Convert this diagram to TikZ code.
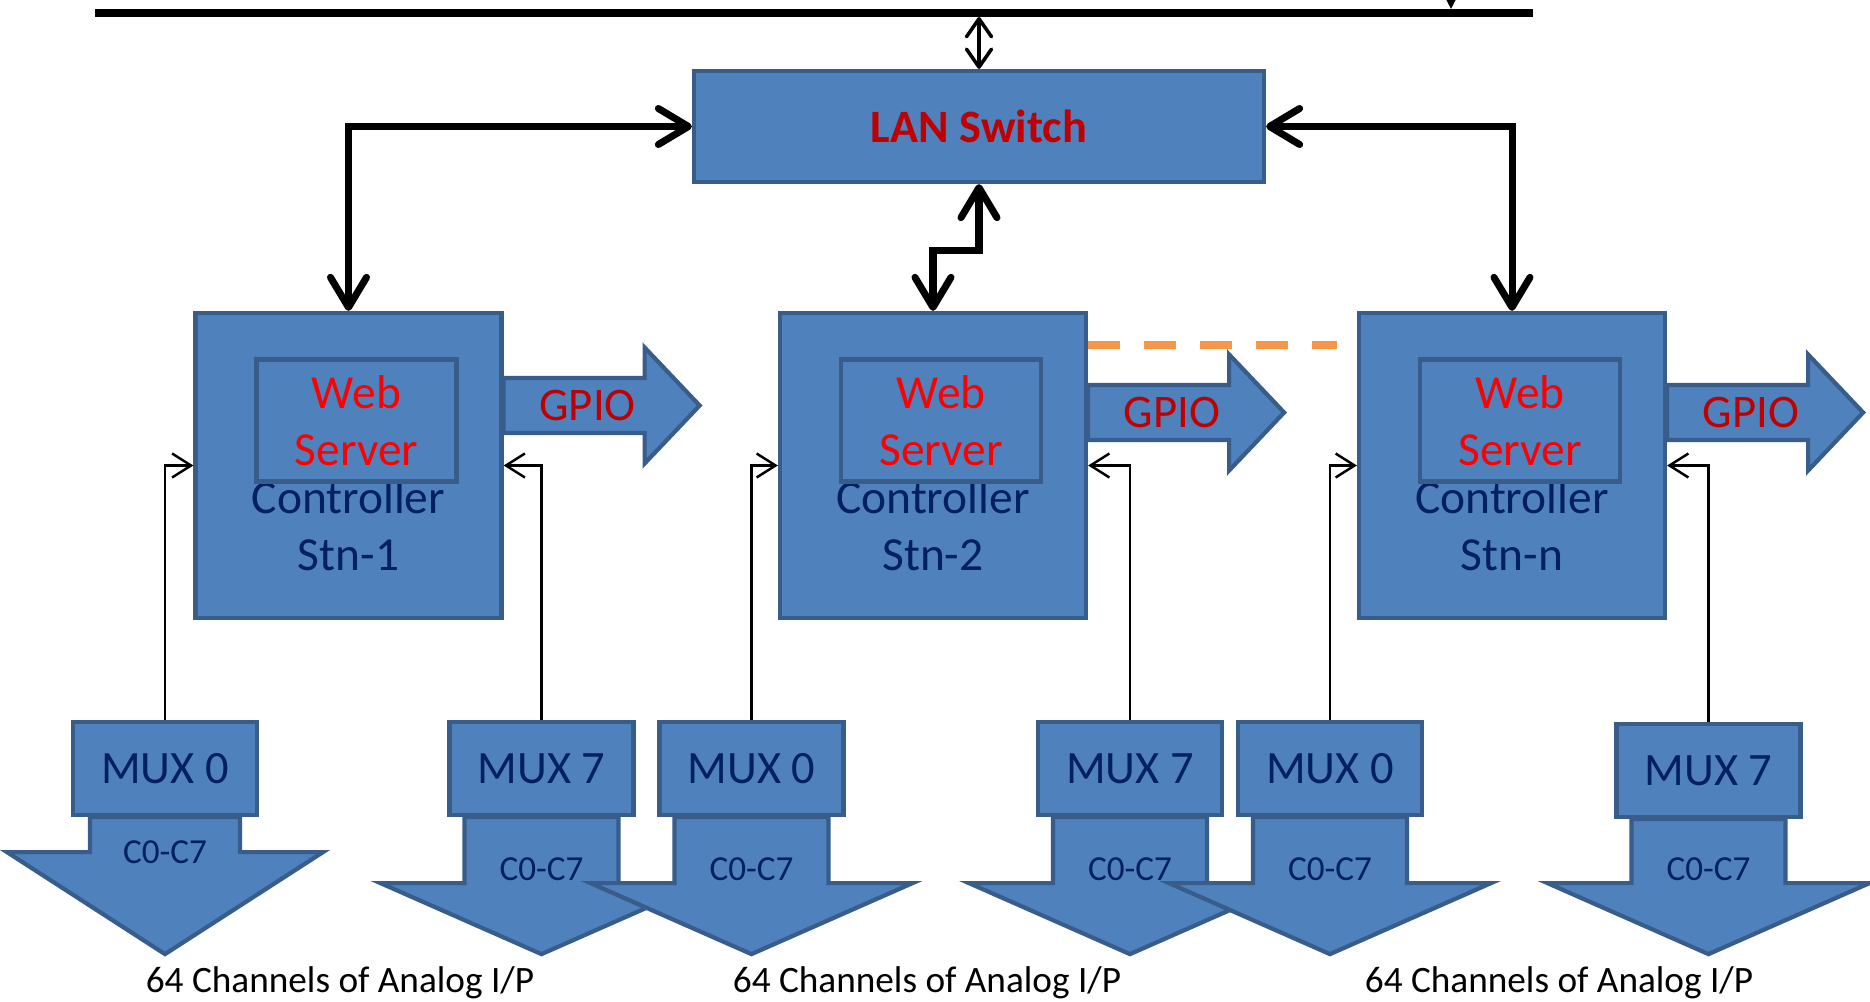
\documentclass[tikz,border=0pt]{standalone}
\usepackage{fontspec}
\setmainfont{Carlito}
\usetikzlibrary{arrows.meta, positioning, calc}

\definecolor{boxfill}{HTML}{4F81BD}
\definecolor{boxline}{HTML}{385D8A}
\definecolor{navy}{HTML}{002060}
\definecolor{darkred}{HTML}{C00000}
\definecolor{orangeline}{HTML}{F79646}

\begin{document}
\begin{tikzpicture}[
    box/.style={draw=boxline, fill=boxfill, line width=1.2pt, inner sep=0pt},
    station/.style={box, minimum width=3.06cm, minimum height=3.05cm},
    websrv/.style={box, minimum width=2.0cm, minimum height=1.22cm, align=center, text=red, font=\fontsize{13.5}{16.3}\selectfont},
    ctrltext/.style={align=center, text=navy, font=\fontsize{13.5}{16.3}\selectfont},
    mux/.style={box, minimum width=1.84cm, minimum height=0.93cm, text=navy, font=\fontsize{13.2}{15}\selectfont},
    blockarrow/.style={draw=boxline, fill=boxfill, line width=1.2pt},
    gpiotext/.style={text=darkred, font=\fontsize{13.3}{15}\selectfont},
    chtext/.style={text=navy, font=\fontsize{10}{12}\selectfont},
    inputtext/.style={font=\fontsize{10.6}{12.7}\selectfont},
    link/.style={<->, >={Straight Barb[length=3mm, width=3.6mm, round]}, line width=2pt},
    buslink/.style={<->, >={Straight Barb[length=1.8mm, width=2.5mm, round]}, line width=1pt},
    feed/.style={->, >={Straight Barb[length=1.9mm, width=2.4mm]}, line width=0.7pt},
    ringline/.style={orangeline, line width=2.3pt, dash pattern=on 9.1pt off 6.8pt}
]
    \useasboundingbox (0,0) rectangle (18.70,-10.02);

    % backbone
    \coordinate (busL) at (0.95,-0.13);
    \coordinate (busR) at (15.33,-0.13);
    \coordinate (busTap) at (9.79,-0.17);
    \coordinate (busIn) at (14.51,0.3);
    \coordinate (busDrop) at (14.51,-0.09);
    \draw[line width=2.3pt] (busL) -- (busR);
    \draw[-{Triangle[length=2.5mm, width=2.5mm]}, line width=1pt] (busIn) -- (busDrop);

    \node[box, minimum width=5.70cm, minimum height=1.11cm, text=darkred, font=\fontsize{13.2}{15}\selectfont\bfseries] (lan) at (9.79,-1.265) {LAN Switch};
    \draw[buslink] (busTap) -- (lan.north);

    % stations
    \node[station] (stn1) at (3.485,-4.655) {};
    \node[station] (stn2) at (9.33,-4.655) {};
    \node[station] (stnn) at (15.12,-4.655) {};
    \node[ctrltext] (ctl1) at ([yshift=-6mm]stn1.center) {Controller\\Stn-1};
    \node[ctrltext] (ctl2) at ([yshift=-6mm]stn2.center) {Controller\\Stn-2};
    \node[ctrltext] (ctln) at ([yshift=-6mm]stnn.center) {Controller\\Stn-n};
    \node[websrv] (web1) at ([xshift=0.8mm, yshift=4.5mm]stn1.center) {Web\\Server};
    \node[websrv] (web2) at ([xshift=0.8mm, yshift=4.5mm]stn2.center) {Web\\Server};
    \node[websrv] (webn) at ([xshift=0.8mm, yshift=4.5mm]stnn.center) {Web\\Server};

    \draw[link] (lan.west) -| (stn1.north);
    \draw[link] (lan.east) -| (stnn.north);
    \draw[link] (lan.south) -- ++(0,-0.66) -| (stn2.north);
    \draw[ringline] ([yshift=12.05mm]stn2.east) -- ([yshift=12.05mm, xshift=-2mm]stnn.west);

    % GPIO outputs
    \draw[blockarrow] ([yshift=6mm]stn1.east) ++(0,0.275) -- ++(1.41,0) -- ++(0,0.305) -- ++(0.55,-0.58) -- ++(-0.55,-0.58) -- ++(0,0.305) -- ++(-1.41,0) -- cycle;
    \draw[blockarrow] ([yshift=5.3mm]stn2.east) ++(0,0.275) -- ++(1.41,0) -- ++(0,0.305) -- ++(0.55,-0.58) -- ++(-0.55,-0.58) -- ++(0,0.305) -- ++(-1.41,0) -- cycle;
    \draw[blockarrow] ([yshift=5.3mm]stnn.east) ++(0,0.275) -- ++(1.41,0) -- ++(0,0.305) -- ++(0.55,-0.58) -- ++(-0.55,-0.58) -- ++(0,0.305) -- ++(-1.41,0) -- cycle;
    \node[gpiotext] (gpio1) at ([xshift=8.4mm, yshift=6mm]stn1.east) {GPIO};
    \node[gpiotext] (gpio2) at ([xshift=8.4mm, yshift=5.3mm]stn2.east) {GPIO};
    \node[gpiotext] (gpion) at ([xshift=8.4mm, yshift=5.3mm]stnn.east) {GPIO};

    % multiplexers
    \node[mux] (mux10) at (1.65,-7.685) {MUX 0};
    \draw[blockarrow] (mux10.south) ++(-0.75,0) -- ++(0,-0.35) -- ++(-0.83,0) -- ++(1.58,-1.02) -- ++(1.58,1.02) -- ++(-0.83,0) -- ++(0,0.35) -- cycle;
    \node[chtext] (ch10) at ([yshift=-3.5mm]mux10.south) {C0-C7};

    \node[mux] (mux17) at (5.415,-7.685) {MUX 7};
    \draw[blockarrow] (mux17.south) ++(-0.77,0) -- ++(0,-0.66) -- ++(-0.84,0) -- ++(1.61,-0.71) -- ++(1.61,0.71) -- ++(-0.84,0) -- ++(0,0.66) -- cycle;
    \node[chtext] (ch17) at ([yshift=-5.2mm]mux17.south) {C0-C7};

    \node[mux] (mux20) at (7.515,-7.685) {MUX 0};
    \draw[blockarrow] (mux20.south) ++(-0.77,0) -- ++(0,-0.66) -- ++(-0.84,0) -- ++(1.61,-0.71) -- ++(1.61,0.71) -- ++(-0.84,0) -- ++(0,0.66) -- cycle;
    \node[chtext] (ch20) at ([yshift=-5.2mm]mux20.south) {C0-C7};

    \node[mux] (mux27) at (11.30,-7.685) {MUX 7};
    \draw[blockarrow] (mux27.south) ++(-0.77,0) -- ++(0,-0.66) -- ++(-0.84,0) -- ++(1.61,-0.71) -- ++(1.61,0.71) -- ++(-0.84,0) -- ++(0,0.66) -- cycle;
    \node[chtext] (ch27) at ([yshift=-5.2mm]mux27.south) {C0-C7};

    \node[mux] (muxn0) at (13.30,-7.685) {MUX 0};
    \draw[blockarrow] (muxn0.south) ++(-0.77,0) -- ++(0,-0.66) -- ++(-0.84,0) -- ++(1.61,-0.71) -- ++(1.61,0.71) -- ++(-0.84,0) -- ++(0,0.66) -- cycle;
    \node[chtext] (chn0) at ([yshift=-5.2mm]muxn0.south) {C0-C7};

    \node[mux] (muxn7) at (17.085,-7.705) {MUX 7};
    \draw[blockarrow] (muxn7.south) ++(-0.77,0) -- ++(0,-0.64) -- ++(-0.84,0) -- ++(1.61,-0.71) -- ++(1.61,0.71) -- ++(-0.84,0) -- ++(0,0.64) -- cycle;
    \node[chtext] (chn7) at ([yshift=-5mm]muxn7.south) {C0-C7};

    \draw[feed] (mux10.north) |- (stn1.west);
    \draw[feed] (mux17.north) |- (stn1.east);
    \draw[feed] (mux20.north) |- (stn2.west);
    \draw[feed] (mux27.north) |- (stn2.east);
    \draw[feed] (muxn0.north) |- (stnn.west);
    \draw[feed] (muxn7.north) |- (stnn.east);

    \node[inputtext] (in1) at (3.40,-9.83) {64 Channels of Analog I/P};
    \node[inputtext] (in2) at (9.27,-9.83) {64 Channels of Analog I/P};
    \node[inputtext] (inn) at (15.59,-9.83) {64 Channels of Analog I/P};
\end{tikzpicture}
\end{document}
